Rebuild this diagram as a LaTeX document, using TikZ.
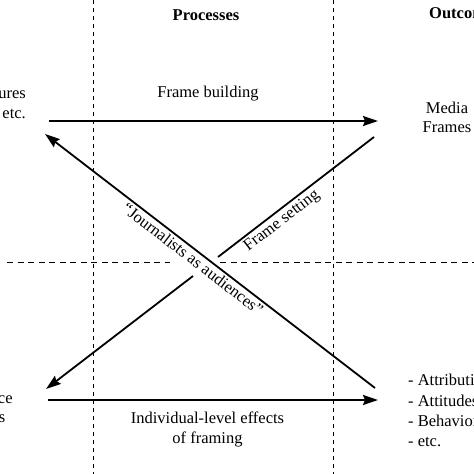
\documentclass[tikz,border=0pt]{standalone}
\usepackage{fontspec}
\setmainfont{Liberation Serif}
\usetikzlibrary{arrows.meta}
\begin{document}
\begin{tikzpicture}[x=1pt,y=-1pt,
  lbl/.style={font=\fontsize{16.5}{19}\selectfont, inner sep=0pt},
  hdr/.style={font=\fontsize{16.5}{19}\selectfont\bfseries, inner sep=0pt},
  grid/.style={line width=0.9pt, dash pattern=on 4pt off 4pt},
  hgrid/.style={line width=0.9pt, dash pattern=on 6pt off 4.5pt},
  flow/.style={line width=1.8pt},
  arr/.style={flow, -{Stealth[length=15pt,width=10pt,inset=2pt]}}]
\useasboundingbox (0,0) rectangle (474,474);
\clip (0,0) rectangle (474,474);
% grid
\coordinate (v1t) at (93,0);   \coordinate (v1b) at (93,474);
\coordinate (v2t) at (333,0);  \coordinate (v2b) at (333,474);
\coordinate (h1a) at (7,262);  \coordinate (h1b) at (170,262);
\coordinate (h2a) at (220,262); \coordinate (h2b) at (474,262);
\draw[grid] (v1t) -- (v1b);
\draw[grid] (v2t) -- (v2b);
\draw[hgrid] (h1a) -- (h1b);
\draw[hgrid] (h2a) -- (h2b);
% headers
\node[hdr, anchor=base] (proc) at (206,20) {Processes};
\node[hdr, anchor=base west] (outc) at (429,18) {Outcomes};
% left texts
\node[lbl, anchor=base east] (in1) at (26,98) {Organizational pressures};
\node[lbl, anchor=base east] (in2) at (26,118) {Ideologies, attitudes, etc.};
\node[lbl, anchor=base] (aud1) at (-19,403) {Audience};
\node[lbl, anchor=base] (aud2) at (-19,422) {Frames};
% right texts
\node[lbl, anchor=base] (mf1) at (447,113) {Media};
\node[lbl, anchor=base] (mf2) at (447,132) {Frames};
\node[lbl, anchor=base west] (o1) at (408,385) {- Attributions};
\node[lbl, anchor=base west] (o2) at (408,406) {- Attitudes};
\node[lbl, anchor=base west] (o3) at (408,426) {- Behaviors};
\node[lbl, anchor=base west] (o4) at (408,446) {- etc.};
% process labels
\node[lbl, anchor=base] (fb) at (208,97) {Frame building};
\node[lbl, anchor=base] (ie1) at (207.5,423) {Individual-level effects};
\node[lbl, anchor=base] (ie2) at (207.5,443) {of framing};
\node[lbl, rotate=-37.6] (ja) at (193,259) {``Journalists as audiences''};
\node[lbl, rotate=37.5] (fs) at (282,221) {Frame setting};
% connectors
\coordinate (tbS) at (49,121);  \coordinate (tbE) at (378,121);
\coordinate (bbS) at (48,400);  \coordinate (bbE) at (378,400);
\coordinate (jS) at (375,388);  \coordinate (jE) at (45,134);
\coordinate (fS) at (374,137);  \coordinate (fM1) at (218,257);
\coordinate (fM2) at (193,276); \coordinate (fE) at (46,389);
\draw[arr] (tbS) -- (tbE);
\draw[arr] (bbS) -- (bbE);
\draw[arr] (jS) -- (jE);
\draw[flow] (fS) -- (fM1);
\draw[arr] (fM2) -- (fE);
\end{tikzpicture}
\end{document}
